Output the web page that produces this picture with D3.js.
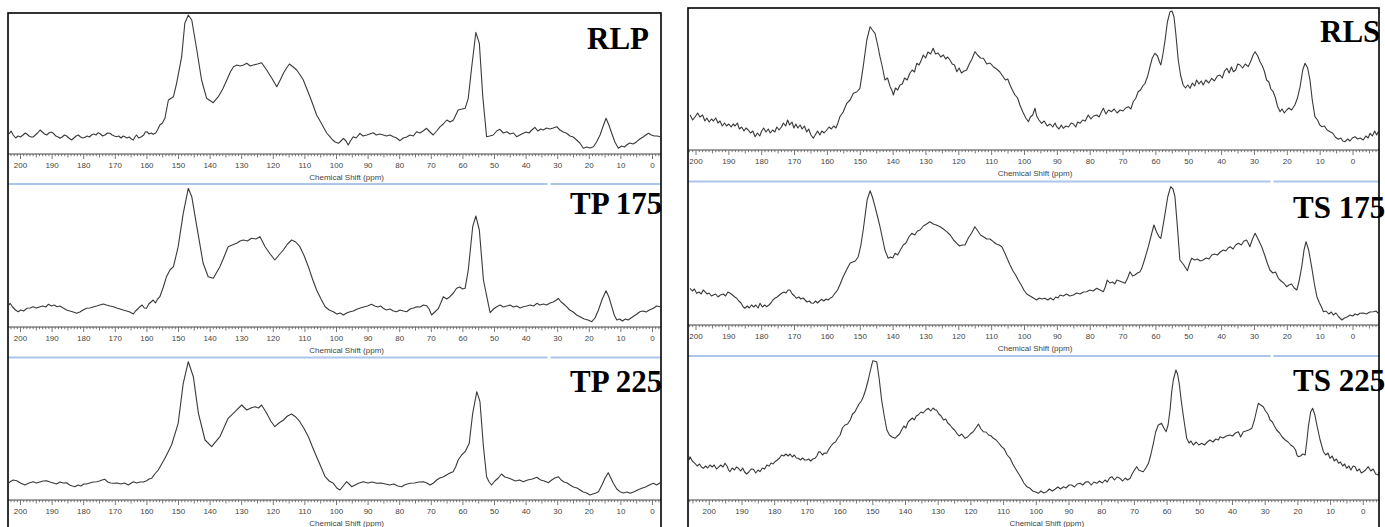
<!DOCTYPE html>
<html>
<head>
<meta charset="utf-8">
<script src="https://cdn.jsdelivr.net/npm/d3@7"></script>
<style>
body { margin: 0; background: #fff; }
svg { display: block; }
</style>
</head>
<body>
<div id="chart"></div>
<script>
// spectra: [ppm, intensity]
var RLP = [[203.6,20],[203.0,23],[202.3,19],[201.5,16],[200.8,18],[200.0,17],[199.2,19],[198.5,21],[198,20],[197.3,18],[196.6,17],[196,17],[195.3,19],[194.6,21],[193.8,24],[193.1,22],[192.4,20],[191.7,19],[191.0,21],[190.3,22],[189.6,20.7],[188.8,18],[188.1,17],[187.5,15.7],[186.8,17],[186.1,19],[185.4,18],[184.7,16],[183.8,14],[183.1,16],[182.4,18],[181.7,19],[181.0,17],[180.3,16],[179.6,16.7],[178.9,18],[178.2,17],[177.5,19],[176.8,20],[176.1,19],[175.4,21.3],[174.7,20],[174.0,18],[173.3,19],[172.5,21],[171.7,20.7],[171.0,19],[170.3,18],[169.6,17.3],[168.9,18],[168.2,16],[167.5,18],[167,17.3],[166.3,16],[165.6,17],[164.9,15],[164.3,14],[163.8,17],[163.3,19],[162.6,16],[161.7,17.3],[161.0,19],[160.5,22],[160,22.3],[159.3,20],[158.6,21],[158,19.7],[157.2,21],[156.5,25],[155.9,29],[155.1,31],[154.3,35.7],[153.2,54],[151.6,57.3],[150.6,70.7],[149,97.3],[148,130.7],[146.9,139],[145.8,134],[144.2,104],[142.7,74],[141.1,55.7],[139,51.3],[137.4,57.3],[136.0,65],[134.7,74],[133.6,82],[132.6,87.3],[131.5,89],[130.5,88],[129.4,89],[128.4,90.7],[127.3,88],[126.3,89],[125.0,90],[123.7,91.3],[122.1,84],[120.5,76],[118.9,67.3],[117.8,74],[116.8,80.7],[115.8,86],[114.9,90],[113.7,87],[112.6,84],[111.5,79],[110.5,74],[109.5,66],[108.4,57.3],[107.3,48],[106.3,39],[105.2,33],[104.2,27.3],[103.1,21],[102.1,17.3],[101.2,14],[100.4,12],[99.4,10.7],[98.6,13],[97.8,15.7],[97.0,13],[96.3,9],[95.6,13],[94.7,17.3],[93.8,16],[92.6,20.7],[91.6,18],[90.4,19],[89.5,20],[88.4,21.3],[87.4,19],[86.3,20],[85.2,19],[84.2,18],[83.1,19],[82,17.3],[81.0,16],[79.9,13.3],[78.9,16],[77.8,17],[76.7,19],[75.7,18],[74.6,22.3],[73.6,21],[72.6,23],[71.5,25.7],[70.4,22],[69.4,19],[68.3,23],[67.2,27.3],[66.2,30],[65.1,34],[64.0,32],[63,34],[61.5,44],[59.3,45.7],[58.3,55.7],[57.2,87.3],[55.9,121.7],[54.8,110.7],[53.7,57.3],[52.5,17.3],[51.5,18],[50.4,19],[49.3,23],[48.3,24.7],[47.2,21],[46.1,22.3],[45.1,20],[44.0,21],[43,17.3],[42.0,19],[40.9,20.7],[40.0,22],[39.1,21],[38.2,24],[37.2,26.7],[36.3,23],[35.4,25],[34.6,24],[33.5,26],[32.5,25],[31.4,26],[30.3,27.3],[29.3,24],[28.2,22],[27.2,20.7],[26.1,18],[25.1,17],[24,14],[23.0,11],[21.9,5.7],[20.8,7],[19.8,6],[18.7,7.3],[17.7,12],[16.6,19],[15.6,28],[14.7,35.7],[13.8,29],[12.9,20.7],[11.9,12],[10.8,5.7],[9.8,8],[8.9,7],[8.2,9],[7.2,11],[6.1,10],[5,12.3],[4.0,15],[3.0,17],[2.1,19],[1.3,20.7],[0.4,19],[-0.6,18],[-1.5,18],[-2.4,17.3]];

var TP175 = [[203.6,22],[203.3,23.7],[202.5,20],[201.6,17],[200.7,15.3],[199.9,17],[199.0,16],[198,18.7],[197.0,19],[196,20.3],[195.0,19],[193.8,20.3],[192.9,21],[192.0,20],[191.2,22.7],[190.2,21],[189.3,22],[188.5,20.3],[187.5,21],[186.5,19],[185.4,17],[184.4,16],[183.3,15],[182.2,13.7],[181.2,15],[180.2,17],[179.1,18.7],[178.1,19],[177.0,20],[175.9,21],[174.9,22],[173.8,23],[172.8,22],[171.7,21],[170.6,20.3],[169.6,19],[168.5,18],[167.5,17],[166.4,16],[165.4,15],[164.3,13],[163.6,16],[162.9,18],[162.2,20.3],[161.5,22],[160.8,19],[160.1,18.7],[159.4,23],[158.7,25],[158,27],[157.3,24],[156.6,28],[155.9,30.3],[154.8,40],[153.8,50.3],[152.7,57],[151.6,60.3],[150.1,80.3],[148.5,113.7],[146.9,138.7],[145.8,130.3],[144.2,100.3],[142.2,63.7],[140.6,50.3],[139,48.7],[136.9,60.3],[135.6,70],[134.3,80.3],[133.0,82],[131.6,83.7],[130.5,86],[129.5,87],[128.2,86],[126.9,88.7],[125.5,88],[124.2,90.3],[122.6,80.3],[121.0,73],[119.5,67],[118.2,72],[116.8,77],[115.5,83],[114.2,87],[112.9,85],[111.6,80.3],[110.2,71],[108.9,60.3],[107.6,48],[106.3,37],[104.9,28],[103.6,20.3],[102.3,17],[101,15.3],[99.9,13],[98.8,14],[97.8,12],[96.8,14],[95.7,15.3],[94.7,16],[93.6,17.7],[92.5,19],[91.4,20],[90.2,21],[88.9,22.7],[87.9,21],[86.9,20],[86.0,21],[85.2,18.7],[84.2,17],[83.1,18],[82.0,16],[81,15.3],[79.9,17],[78.8,16],[77.8,15.3],[76.7,18],[75.6,19],[74.6,20.3],[73.5,20],[72.5,22],[71.5,21.3],[70.7,18],[69.9,12],[68.9,15],[67.8,18.3],[67.0,24],[66.2,30.3],[65.1,28],[64.1,30.3],[63.0,34],[62,38.7],[61.0,40],[60.1,38],[59.3,38.7],[58.3,57],[56.9,100.3],[55.9,111],[54.8,97],[53.5,47],[51.4,14.3],[50.3,18],[49.3,20.3],[48.2,22],[47.2,20],[46.1,21],[45.1,22],[44.0,20],[43.0,21],[41.9,19],[40.9,20.3],[39.8,21],[38.7,22],[37.6,21],[36.6,23.7],[35.6,22],[34.5,23],[33.5,22],[32.4,24],[31.4,25],[30.4,27],[29.8,28.7],[28.9,25],[28.1,23],[27.2,20.3],[26.2,17],[25.1,15],[24,12],[22.8,10],[21.6,8],[20.4,7],[19.2,5.3],[18.2,9],[17.1,17],[15.9,28],[14.7,36.3],[13.8,30],[12.9,20.3],[12.1,12],[11.3,7],[10.4,8],[9.5,6],[8.6,8],[7.7,7],[6.8,9],[5.9,11],[4.9,13],[4,15.3],[3.0,16],[2.0,15],[1.0,17],[-0.3,18.7],[-1.3,21],[-2.4,20.3]];

var TP225 = [[203.6,17],[203.3,18.3],[202.3,20],[201.2,19.3],[200.0,17],[198.6,15],[197.3,17],[196,18.3],[195.0,17],[193.9,18],[192.8,19],[191.7,19.3],[190.7,18],[189.6,17],[188.6,16],[187.5,18],[186.5,17],[185.4,17.3],[184.5,15],[183.6,14],[182.8,13.3],[181.8,15],[180.9,14],[180.0,16],[179.1,16],[178.1,17],[177.0,18],[175.9,18.3],[175.0,19],[174.2,20],[173.3,20.7],[172.4,18],[171.5,17],[170.6,16.7],[169.4,17],[168.2,16],[167.1,17],[165.9,15],[164.3,18.3],[163.2,17],[162.2,18],[161.1,18],[160.1,19.3],[159.3,21],[158.5,21.7],[157.5,26],[156.4,30],[154.3,41.7],[152.2,55],[150.1,76.7],[148.5,116.7],[146.9,138.3],[145.3,123.3],[143.7,86.7],[141.6,60],[139.5,53.3],[136.9,63.3],[134.3,81.7],[132.1,88.3],[130,95],[128.4,90],[127.1,92],[125.8,93.3],[124.7,92],[123.7,95],[122.1,86.7],[120.8,79],[119.5,73.3],[118.2,77],[116.8,80],[115.5,84],[114.2,86],[112.9,83],[111.6,78.3],[110.2,71],[108.9,63.3],[107.6,53],[106.3,43.3],[104.9,33],[103.6,23.3],[102.3,19],[101,16.7],[99.9,12],[98.9,10],[97.9,14],[96.8,18.3],[96.0,16],[95.2,13.3],[94.1,15],[92.8,17],[91.5,18.3],[90.1,17],[88.7,18],[87.3,16.7],[85.9,17],[84.5,16],[83.1,15],[81.9,16],[80.6,14],[79.4,13.3],[78.5,15],[77.6,16],[76.7,16.7],[75.3,17],[73.9,18],[72.5,18.3],[71.4,17],[70.4,15],[69.3,17],[68.3,20],[67.3,22],[66.3,23],[65.2,25],[64.1,27],[63.1,28.3],[62.3,33],[61.5,40],[60.4,45],[59.3,48.3],[58,56.7],[56.9,86.7],[55.6,108.3],[54.6,98.3],[53.5,53.3],[52.5,23.3],[51.7,18],[50.9,15],[49.9,19],[48.8,22],[47.8,26],[46.7,23],[45.6,22],[44.6,20.7],[43.4,19],[42.1,20],[40.9,18.3],[39.5,20],[38.0,21],[36.6,22.7],[35.4,20],[34.2,19],[33,17.3],[31.9,20],[30.9,22],[29.8,23.3],[28.9,20],[28.0,18],[27.0,17],[26.1,15],[25.0,13],[23.9,12],[22.9,10],[21.9,8],[20.8,7],[19.8,5],[18.9,6],[17.9,7],[17.1,8.3],[16.0,15],[15.0,22],[14,27.3],[13.2,22],[12.4,16.7],[11.3,11],[10.3,8.3],[9.2,7],[8.1,8],[7.1,6.7],[6.0,8],[4.7,10],[3.4,11.7],[2.2,13],[1.0,15],[-0.3,16.7],[-1.3,15],[-2.4,17.3]];

var RLS = [[201.8,35],[201.0,30],[200.3,33],[199.5,37],[198.8,33],[198.0,35],[197.3,29],[196.7,32],[196.0,28],[195.3,31],[194.7,29],[194.0,32],[193.3,27],[192.7,29],[192.0,24],[191.3,27],[190.7,24],[190.0,26],[189.3,23],[188.7,26],[188.1,24],[187.4,27],[186.8,21],[186.1,23],[185.4,19],[184.8,22],[184.1,20],[183.4,17],[182.7,19],[182,13.3],[181.3,17],[180.6,14],[180,19],[179.4,22],[178.7,18],[178.0,21],[177.4,17],[176.7,20],[176.0,18],[175.4,23],[174.7,20],[174.0,23],[173.4,27],[172.7,24],[172.1,30],[171.5,25],[170.8,28],[170.2,22],[169.6,26],[169,22],[168.3,25],[167.7,21],[167.0,24],[166.3,18],[165.7,21],[165.0,15],[164.3,11.7],[163.7,15],[163.0,19],[162.3,15],[161.7,19],[161.0,17],[160.2,20],[159.5,23],[158.8,21],[158.1,24],[157.4,22],[156.8,27],[156.2,33.3],[155.2,38],[154.1,46.7],[153.1,50],[152.1,56.7],[151.1,58],[150.1,61.7],[149.1,83.3],[148,110],[147,123.3],[146.3,120],[145.5,116.7],[144.7,105],[144,93.3],[143.2,82],[142.5,70],[141.7,72],[140.9,63.3],[140.4,60],[139.9,55],[139.3,62],[138.6,60],[137.9,65],[137.2,66],[136.5,72],[135.7,70],[134.9,76.7],[134.2,80],[133.5,78],[132.8,86.7],[132.1,85],[131.4,90],[130.8,95],[130.1,92],[129.4,98],[128.6,96],[127.8,101.7],[127.1,96],[126.3,97],[125.5,93],[124.7,95],[124.0,91],[123.4,93],[122.7,90],[122.0,86],[121.3,85],[120.6,78.3],[119.9,82],[119.2,77],[118.4,79],[117.6,80],[116.8,86],[116.0,91],[115.1,98.3],[114.3,95],[113.4,92],[112.5,91.7],[111.5,86],[110.5,87],[109.5,83.3],[108.5,81],[107.5,78],[106.5,73.3],[105.8,70],[105.1,71],[104.4,65],[103.7,60],[102.9,55],[102.1,52],[101.4,45],[100.5,38],[99.6,32],[98.8,28.3],[98.2,33],[97.5,35],[96.8,41.7],[96.3,34],[95.6,30],[94.8,26.7],[94.0,29],[93.1,24],[92.2,26],[91.4,23],[90.7,27],[90.2,23.3],[89.5,21],[88.8,25],[88.2,21.7],[87.4,24],[86.6,23],[85.8,27],[85.1,26],[84.4,23],[83.8,28],[83.1,26.7],[82.3,30],[81.5,29],[80.6,35],[79.8,31],[79.0,34],[78,35],[77.3,33],[76.6,38],[76,41.7],[75.2,36],[74.4,40],[73.5,38.3],[72.7,41],[71.8,37],[70.9,40],[70.0,39],[69.2,42],[68.4,43.3],[67.6,41],[66.9,48.3],[66.1,52],[65.4,58.3],[64.7,60],[64.0,64],[63.3,66.7],[62.5,74],[61.8,83.3],[61.1,92],[60.3,96.7],[59.5,94],[58.9,88],[58.5,85],[57.9,95],[57.2,110],[56.5,128],[55.7,138.3],[55.1,139],[54.5,133.3],[53.9,115],[53.2,90],[52.5,75],[51.7,65],[51.0,62],[50.3,65],[49.6,61.7],[48.9,67],[48.2,64],[47.6,70],[46.9,66],[46.2,69],[45.6,65],[44.8,70],[43.9,67],[43,71.7],[42.2,69],[41.3,74],[40.5,75],[39.8,72],[39.1,79],[38.4,81.7],[37.7,77],[37.0,83],[36.4,78.3],[35.7,80],[35.1,86],[34.4,85],[33.6,82],[32.8,86],[31.9,83.3],[31.1,89],[30.4,95],[29.8,98.3],[29.0,94],[28.3,88.3],[27.6,84],[27.0,79],[26.3,70],[25.6,68],[25.0,61],[24.3,58.3],[23.6,52],[23.0,44],[22.2,38.3],[21.6,41],[20.9,37],[20.2,40],[19.5,42],[18.7,40],[17.7,45],[16.9,52],[16.1,63.3],[15.3,80],[14.6,86.7],[13.8,82],[13.1,70],[12.4,50],[11.6,33.3],[10.8,30],[10.1,25],[9.5,23.3],[8.7,24],[7.9,20],[7,18.3],[6.2,17],[5.4,13],[4.5,10.7],[3.7,12],[3.1,9],[2.4,8.3],[1.6,11],[0.9,9],[0.2,12],[-0.6,13.3],[-1.4,11],[-2.2,12],[-3.1,10],[-3.9,14],[-4.6,12],[-5.2,16.7],[-5.9,14],[-6.6,19],[-7.2,15],[-7.7,18.3]];

var TS175 = [[201.8,36.7],[201.1,34],[200.5,36],[199.8,31.7],[199.1,33],[198.4,31],[197.8,35],[197.3,33.3],[196.6,31],[196.0,32],[195.3,29],[194.7,30],[194.0,31],[193.3,28],[192.6,30],[191.7,31],[191.0,29],[190.3,33],[189.6,31.7],[188.9,30],[188.2,28],[187.6,26.7],[187.0,24],[186.3,22],[185.6,18],[185.1,16.7],[184.4,19],[183.8,17],[183.1,20],[182.4,18],[181.8,20],[181.1,17],[180.5,21.7],[179.8,18],[179.1,20],[178.5,18.3],[177.8,20],[177.2,22],[176.6,25],[176,26.7],[175.3,28],[174.6,30],[173.9,31.7],[173.2,33],[172.6,32],[172.0,35],[171.4,35],[170.7,31],[170.0,29],[169.4,26.7],[168.7,28],[168.1,26],[167.4,27],[166.8,25],[166.2,23],[165.5,24],[164.9,22],[164.3,21.7],[163.6,24],[163.0,22],[162.4,24],[161.7,25.7],[161.1,24],[160.4,26],[159.8,25],[159.2,26.7],[158.5,28],[157.7,31.7],[156.9,35],[156.1,41],[155.2,48.3],[154.2,55],[153.1,61.7],[152.3,63],[151.5,64],[150.6,68.3],[149.8,80],[149.1,95],[148.5,110],[147.9,125],[147,134.3],[146.3,128],[145.5,118.3],[144.7,108],[144,98.3],[143.2,86],[142.5,75],[141.5,66.7],[140.8,68],[140.1,67],[139.4,71.7],[138.6,70],[137.8,75],[136.9,80],[136.1,82],[135.2,88],[134.3,91.7],[133.4,90],[132.6,94],[131.8,95],[130.8,99],[129.8,101],[128.8,103.3],[127.8,101],[126.8,100],[125.7,98.3],[124.7,96],[123.7,93.3],[122.6,90],[121.6,85],[120.6,81.7],[119.8,79],[119.0,80],[118.1,80],[117.1,87],[116.1,92],[115.1,98.3],[114.2,94],[113.4,90],[112.5,88.3],[111.5,86],[110.5,86],[109.5,83.3],[108.6,81],[107.7,80],[106.9,78.3],[106.0,72],[105.2,66],[104.4,60],[103.5,54],[102.7,50],[101.9,45],[101.0,40],[100.2,35],[99.3,31],[98.3,29],[97.3,27],[96.3,25],[95.5,27],[94.7,26],[93.8,26.7],[92.9,25],[92.1,27],[91.2,25],[90.5,28],[89.8,27],[89.2,30],[88.2,29],[87.2,31],[86.2,29],[85.1,30],[84.1,32],[83.1,31],[82.1,33],[81.1,33.3],[80.1,35],[79.1,34],[78,36.7],[77.0,35],[76,33.3],[75.4,38],[74.8,45],[74.0,42],[73.2,43],[72.5,41],[71.9,45],[71.1,44],[70.3,43],[69.4,41.7],[68.6,47],[67.9,53.3],[67.1,49],[66.4,50],[65.6,52],[64.9,53],[64.3,56.7],[63.4,66],[62.3,78.3],[61.4,90],[60.6,100],[59.8,93],[59.0,88],[58.5,86.7],[57.9,98],[57.2,111.7],[56.4,128],[55.5,138.3],[54.8,136],[54.2,128.3],[53.5,100],[52.7,65],[51.5,60],[50.4,54.3],[49.7,62],[49.1,66.7],[48.2,65],[47.4,66],[46.5,64],[45.6,65],[44.7,67],[43.8,66],[43,70],[42.2,71],[41.3,70],[40.4,73],[39.5,75],[38.7,74],[38.0,77],[37.4,78.3],[36.5,76],[35.7,80],[34.9,81.7],[34.0,80],[33.2,84],[32.4,85],[31.9,82],[31.4,78.3],[30.6,86],[29.8,91.7],[28.9,86],[27.8,78.3],[26.9,70],[26.1,62],[25.3,55],[24.4,52],[23.6,53],[22.7,46.7],[21.9,44],[21.1,42],[20.2,38.3],[19.5,40],[18.7,41],[17.9,37],[17.1,35],[16.4,44],[15.6,58.3],[14.9,75],[14.3,83.3],[13.5,75],[12.6,58.3],[11.8,42],[11,28.3],[10.2,22],[9.6,18],[9,13.3],[8.2,14],[7.4,11],[6.6,13],[6,10],[5.2,12],[4.3,8],[3.4,5],[2.6,7],[1.8,8],[0.9,10],[0.1,9],[-0.6,11],[-1.4,10],[-2.1,11.7],[-3.1,12],[-4.1,11],[-5.1,13],[-6.2,13.3],[-7.0,14],[-7.7,11.7]];

var TS225 = [[206.2,40],[205.9,43.3],[205.2,39],[204.4,36.7],[203.7,34],[203.0,36],[202.4,33],[201.8,31.7],[201.1,34],[200.5,32],[199.8,35],[199.1,33],[198.5,35],[197.8,31],[197.2,32.7],[196.5,35],[195.8,33],[195.2,36.7],[194.6,34],[194.1,30],[193.7,28.3],[193.0,32],[192.3,30],[191.7,33],[191.1,31.7],[190.4,29],[189.8,32],[189.2,28],[188.6,26],[187.9,28],[187.2,31],[186.5,30.7],[185.8,27],[185.1,30],[184.5,28.3],[183.8,32],[183.1,31],[182.4,35],[181.7,34],[181.1,37],[180.5,36],[179.9,38.3],[179.2,40],[178.5,42],[177.9,45],[177.2,44],[176.6,46],[175.9,44],[175.3,46],[174.6,43],[174.0,45],[173.4,42],[172.8,41.7],[172.1,40],[171.5,42],[170.8,40],[170.2,40],[169.6,41],[169.0,39],[168.3,41],[167.7,41.7],[167.1,44],[166.6,48],[166.1,48.3],[165.4,45],[164.8,47],[164.1,46.7],[163.4,51],[162.8,54],[162.1,56.7],[161.4,58],[160.7,62],[160,65],[159.3,72],[158.5,75],[157.7,76],[156.9,80],[156.2,86],[155.5,88],[154.9,91.7],[154.2,96],[153.5,99],[152.9,103.3],[152.2,110],[151.4,120],[150.7,130],[150,139.3],[148.8,138.3],[148.0,120],[147.3,100],[146.5,84],[145.7,70],[144.9,65],[144.1,63],[143.2,61.7],[142.5,64],[141.8,66],[141.2,70],[140.5,74],[139.9,72],[139.2,78],[138.6,80],[137.9,82],[137.3,80],[136.7,84],[136.1,85],[135.3,88],[134.6,87],[133.8,90],[133,91.7],[132.3,89],[131.6,92],[130.9,90],[130.5,90],[129.8,86],[129.1,84],[128.4,80],[127.7,81],[127.1,77],[126.4,75],[125.7,72],[125.0,70],[124.3,66.7],[123.6,64],[122.8,66],[121.8,61.7],[121.0,63],[120.2,66],[119.3,68.3],[118.5,72],[117.7,76],[116.9,71],[116.2,68.3],[115.4,68],[114.6,65],[113.8,64],[113.1,61.7],[112.3,60],[111.5,57],[110.6,53.3],[109.8,51],[108.9,45],[108,41.7],[107.2,36],[106.3,31],[105.5,26.7],[104.6,22],[103.8,17],[102.9,13.3],[101.9,11.7],[101.1,9],[100.2,8],[99.4,6.7],[98.6,9],[97.7,7],[96.8,8.3],[96.0,11],[95.1,9],[94.3,10.7],[93.4,13],[92.6,11],[91.7,13.3],[90.9,12],[90.0,15],[89.2,15],[88.3,13],[87.5,16],[86.6,16.7],[85.8,15],[84.9,18],[84.1,18.3],[83.2,15],[82.4,18],[81.5,16.7],[80.7,19],[79.8,17],[79,20],[78.3,18],[77.6,22],[76.9,23.3],[76.1,20],[75.3,23],[74.4,21.7],[73.6,19],[72.8,22],[72.1,20],[71.3,21.7],[70.7,26],[70.0,30],[69.3,33.3],[68.7,30],[68.0,29],[67.3,28.3],[66.5,32],[65.7,36.7],[65.0,45],[64.2,56.7],[63.5,68],[62.7,75],[61.7,76.7],[61.0,72],[60.3,68.3],[59.7,75],[59.1,90],[58.6,108],[58.1,120],[57.3,130],[56.8,126],[56.3,116.7],[55.7,100],[55,83.3],[54,61.7],[53.3,57],[52.7,59],[52,55],[51.1,58],[50.3,55],[49.4,56.7],[48.6,55],[47.7,58],[46.9,60],[46.0,58],[45.1,61],[44.3,60],[43.8,63.3],[42.9,62],[41.9,64],[40.8,65],[40.0,64],[39.1,67],[38.2,68.3],[37.5,63],[36.7,68.3],[35.9,69],[35.0,70],[34.1,71.7],[33.3,80],[32.6,90],[32.1,96.7],[31.4,95],[30.6,93.3],[29.9,89],[29.2,86],[28.5,80],[27.8,78],[27.2,74],[26.5,70],[25.6,67],[24.8,63],[23.9,60],[23.0,58],[22.2,55],[21.4,53.3],[20.7,50],[20.3,45],[19.9,43.3],[19.2,44],[18.5,46],[17.8,45],[17.3,58],[16.8,73.3],[16.1,88],[15.5,91.7],[14.8,85],[14.1,73.3],[13.2,60],[12.2,48.3],[11.5,45],[10.8,47],[10.2,41.7],[9.5,44],[8.9,39],[8.2,41],[7.6,36.7],[7.0,38],[6.3,34],[5.7,36],[5.1,31.7],[4.4,34],[3.8,30],[3.1,34],[2.5,33.3],[1.9,29],[1.2,31],[0.6,27],[0,28.3],[-0.7,30],[-1.5,33.3],[-2.3,29],[-3.0,31],[-3.8,26],[-4.6,25],[-5.0,28]];

var sampleNames = ["RLP", "TP 175", "TP 225", "RLS", "TS 175", "TS 225"];
var tickLabels = [200, 190, 180, 170, 160, 150, 140, 130, 120, 110, 100, 90, 80, 70, 60, 50, 40, 30, 20, 10, 0];
var axisTitle = "Chemical Shift (ppm)";

var W = 1385, H = 527;

var svg = d3.select("#chart").append("svg")
    .attr("width", W)
    .attr("height", H)
    .style("background", "#fff");

// panel layout (px): zero = x of 0 ppm, ppx = px per ppm
var panels = [
    {data: RLP,   name: sampleNames[0], left: 8,   right: 661,  zero: 652.5,  ppx: 3.16,  axisY: 154, sepY: 184,   gapX: 549,  lx: 587,  ly: 49},
    {data: TP175, name: sampleNames[1], left: 8,   right: 661,  zero: 652.5,  ppx: 3.16,  axisY: 327, sepY: 357.5, gapX: 549,  lx: 570,  ly: 214},
    {data: TP225, name: sampleNames[2], left: 8,   right: 661,  zero: 652.5,  ppx: 3.16,  axisY: 500, sepY: null,  gapX: 549,  lx: 570,  ly: 391.5},
    {data: RLS,   name: sampleNames[3], left: 688, right: 1379, zero: 1353,   ppx: 3.285, axisY: 150, sepY: 181.5, gapX: 1272, lx: 1320, ly: 42},
    {data: TS175, name: sampleNames[4], left: 688, right: 1379, zero: 1353,   ppx: 3.285, axisY: 325, sepY: 356,   gapX: 1272, lx: 1293, ly: 217.5},
    {data: TS225, name: sampleNames[5], left: 688, right: 1379, zero: 1363.3, ppx: 3.27,  axisY: 500, sepY: null,  gapX: 1272, lx: 1293, ly: 391}
];

panels.forEach(function(p, i) {
    var x = d3.scaleLinear()
        .domain([(p.zero - p.left) / p.ppx, (p.zero - p.right) / p.ppx])
        .range([p.left, p.right]);
    var y = d3.scaleLinear()
        .domain([0, 150])
        .range([p.axisY, p.axisY - 150]);

    var g = svg.append("g").attr("class", "panel");

    g.append("clipPath").attr("id", "clip" + i)
        .append("rect")
        .attr("x", p.left).attr("y", 0)
        .attr("width", p.right - p.left).attr("height", p.axisY);

    var line = d3.line()
        .x(function(d) { return x(d[0]); })
        .y(function(d) { return y(d[1]); });

    g.append("path")
        .datum(p.data)
        .attr("clip-path", "url(#clip" + i + ")")
        .attr("fill", "none")
        .attr("stroke", "#3a3a3a")
        .attr("stroke-width", 1.1)
        .attr("stroke-linejoin", "round")
        .attr("d", line);

    // axis line + minor/major ticks hanging below
    g.append("line")
        .attr("x1", p.left).attr("x2", p.right)
        .attr("y1", p.axisY).attr("y2", p.axisY)
        .attr("stroke", "#444").attr("stroke-width", 1);

    var dom = x.domain();
    var tickVals = d3.range(Math.ceil(dom[1]), Math.floor(dom[0]) + 1);
    g.selectAll("line.tick")
        .data(tickVals)
        .enter().append("line")
        .attr("class", "tick")
        .attr("x1", function(d) { return x(d); })
        .attr("x2", function(d) { return x(d); })
        .attr("y1", p.axisY)
        .attr("y2", function(d) { return p.axisY + (d % 10 === 0 ? 5 : d % 5 === 0 ? 3.5 : 2.2); })
        .attr("stroke", "#555").attr("stroke-width", 0.8);

    g.selectAll("text.tl")
        .data(tickLabels)
        .enter().append("text")
        .attr("class", "tl")
        .attr("x", function(d) { return x(d); })
        .attr("y", p.axisY + 14)
        .attr("text-anchor", "middle")
        .style("font-family", "'Liberation Sans', Arial, sans-serif")
        .style("font-size", "8px")
        .style("fill", "#444")
        .text(function(d) { return d; });

    g.append("text")
        .attr("x", x(96.8))
        .attr("y", p.axisY + 26)
        .attr("text-anchor", "middle")
        .style("font-family", "'Liberation Sans', Arial, sans-serif")
        .style("font-size", "8px")
        .style("fill", "#444")
        .text(axisTitle);

    // light blue separator under each spectrum
    if (p.sepY !== null) {
        g.append("line")
            .attr("x1", p.left).attr("x2", p.gapX - 1.5)
            .attr("y1", p.sepY).attr("y2", p.sepY)
            .attr("stroke", "#abc6ea").attr("stroke-width", 2.2);
        g.append("line")
            .attr("x1", p.gapX + 1.5).attr("x2", p.right)
            .attr("y1", p.sepY).attr("y2", p.sepY)
            .attr("stroke", "#abc6ea").attr("stroke-width", 2.2);
    }
});

// outer frames
svg.append("rect")
    .attr("x", 8).attr("y", 13).attr("width", 653).attr("height", 540)
    .attr("fill", "none").attr("stroke", "#000").attr("stroke-width", 1.6);
svg.append("rect")
    .attr("x", 688).attr("y", 8).attr("width", 691).attr("height", 540)
    .attr("fill", "none").attr("stroke", "#000").attr("stroke-width", 1.6);

// sample names
svg.selectAll("text.name")
    .data(panels)
    .enter().append("text")
    .attr("class", "name")
    .attr("x", function(d) { return d.lx; })
    .attr("y", function(d) { return d.ly; })
    .style("font-family", "'Liberation Serif', 'Times New Roman', serif")
    .style("font-weight", "bold")
    .style("font-size", "31px")
    .style("fill", "#000")
    .text(function(d) { return d.name; });
</script>
</body>
</html>
